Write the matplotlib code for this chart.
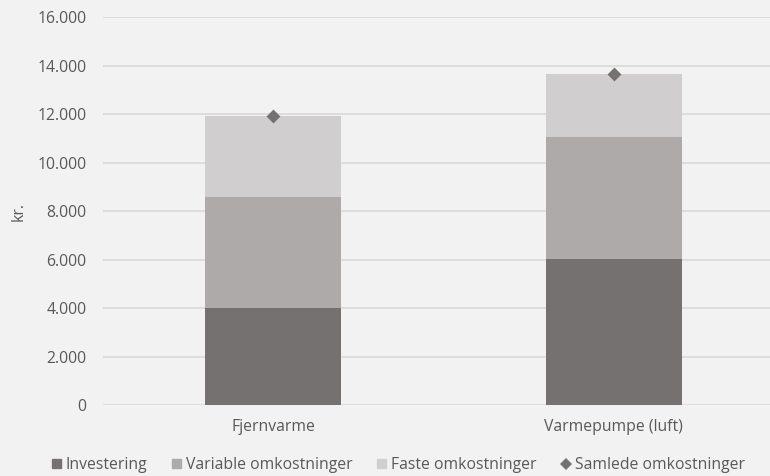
import numpy as np
import matplotlib
matplotlib.use("Agg")
import matplotlib.pyplot as plt
from matplotlib.lines import Line2D
from matplotlib.ticker import FuncFormatter

plt.rcParams['font.family'] = ['Open Sans', 'DejaVu Sans']

# Data (kr.)
categories = ['Fjernvarme', 'Varmepumpe (luft)']
investering = [4000, 6050]
variable = [4570, 5030]
faste = [3380, 2600]
samlede = [11950, 13680]

series_names = ['Investering', 'Variable omkostninger', 'Faste omkostninger', 'Samlede omkostninger']
colors = ['#757171', '#AEAAAA', '#D0CECE']
marker_color = '#767171'
bg = '#F2F2F2'
text_color = '#595959'
fs = 11.3

fig = plt.figure(figsize=(7.7, 4.76), dpi=100, facecolor=bg)
ax = fig.add_axes([103 / 770, 70.7 / 476, 681 / 770, 388 / 476])
ax.set_facecolor(bg)

x = np.arange(len(categories))
width = 0.4
bottom = np.zeros(len(categories))
for vals, c in zip([investering, variable, faste], colors):
    ax.bar(x, vals, width, bottom=bottom, color=c, zorder=2)
    bottom += np.array(vals)

ax.scatter(x, samlede, marker='D', s=50, color=marker_color, zorder=3, linewidths=0)

ax.set_xlim(-0.5, 1.5)
ax.set_ylim(0, 16000)
ax.set_yticks(np.arange(0, 16001, 2000))
ax.yaxis.set_major_formatter(FuncFormatter(lambda v, p: f"{int(v):,}".replace(',', '.')))
ax.set_xticks(x)
ax.set_xticklabels(categories)
ax.grid(axis='y', color='#D9D9D9', linewidth=1.2, zorder=0)
ax.tick_params(length=0, labelsize=fs, colors=text_color, pad=12)
ax.tick_params(axis='x', pad=10)
for s in ax.spines.values():
    s.set_visible(False)
ax.set_ylabel('kr.', fontsize=fs, color=text_color)
ax.yaxis.set_label_coords(-0.1116, 0.5)

handles = [plt.Rectangle((0, 0), 1, 1, color=c) for c in colors]
handles.append(Line2D([], [], marker='D', linestyle='none', color=marker_color,
                      markersize=6, markeredgewidth=0))
leg = fig.legend(handles, series_names, loc='center', bbox_to_anchor=(0.5175, 1 - 465 / 476),
                 ncol=4, frameon=False, fontsize=fs, handlelength=0.57, handleheight=0.57,
                 handletextpad=0.3, columnspacing=1.6, labelcolor=text_color,
                 borderpad=0, borderaxespad=0)

fig.savefig('out.png', dpi=100, facecolor=bg)
